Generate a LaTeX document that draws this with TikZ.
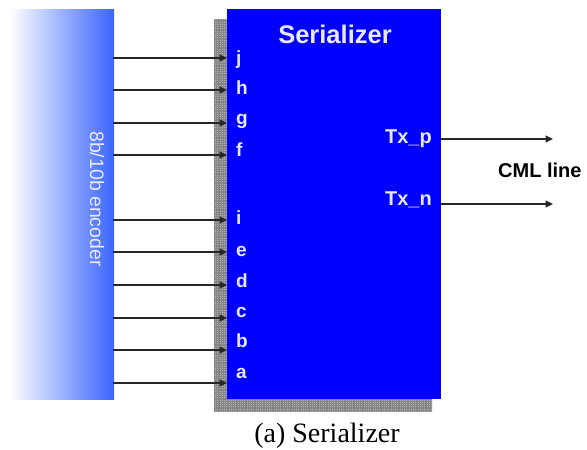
\documentclass[tikz,border=0pt]{standalone}
\usepackage{fontspec}
\setmainfont{Liberation Serif}
\setsansfont{Liberation Sans}
\usetikzlibrary{arrows.meta}
\definecolor{serblue}{RGB}{0,0,255}
\definecolor{encblue}{RGB}{58,100,255}
\definecolor{encmid}{RGB}{175,188,255}
\definecolor{pintext}{RGB}{232,232,255}
\tikzset{
  pin/.style={anchor=base west, inner sep=0pt, text=pintext, font=\sffamily\bfseries\fontsize{19}{19}\selectfont},
  outlbl/.style={anchor=base east, inner sep=0pt, text=pintext, font=\sffamily\bfseries\fontsize{20}{20}\selectfont},
  wire/.style={line width=1.3pt, black!85, -{Triangle[length=7.5pt,width=7pt]}},
}
\begin{document}
\begin{tikzpicture}[x=1pt,y=-1pt]
\useasboundingbox (0,0) rectangle (587,450);
% 8b/10b encoder block with horizontal gradient
\shade[left color=white, middle color=encmid, right color=encblue] (10,9) rectangle (114,399);
\node[inner sep=0pt, minimum width=104pt, minimum height=390pt] (enc) at (62,204) {};
\node[rotate=-90, text=pintext, font=\sffamily\fontsize{19.5}{19.5}\selectfont, inner sep=0pt] (enclbl) at (97,199) {8b/10b encoder};
% hatched shadow behind the serializer
\fill[gray!60] (214,19) rectangle (432,412);
\begin{scope}
  \clip (214,19) rectangle (432,412);
  \draw[gray!95, line width=0.4pt, step=1.8pt] (214,19) grid (432,412);
\end{scope}
% serializer block
\fill[serblue] (227,9) rectangle (441,399);
\node[inner sep=0pt, minimum width=214pt, minimum height=390pt] (ser) at (334,204) {};
\node[anchor=base, inner sep=0pt, text=pintext, font=\sffamily\bfseries\fontsize{25.5}{25.5}\selectfont] (title) at (335,43) {Serializer};
% input pins
\foreach \nm/\lbl/\wy/\ly in {j/j/58/64, h/h/90/94, g/g/123/124, f/f/155/156, i/i/220/224, e/e/252/256, d/d/285/287, c/c/318/317, b/b/350/347, a/a/383/378}{
  \coordinate (src\nm) at (113,\wy);
  \coordinate (dst\nm) at (227,\wy);
  \node[pin] (pin\nm) at (236,\ly) {\lbl};
  \draw[wire] (src\nm) -- (dst\nm);
}
% outputs
\node[outlbl] (txp) at (432,143) {Tx\_p};
\node[outlbl] (txn) at (432,205) {Tx\_n};
\coordinate (txpsrc) at (441,139);
\coordinate (txpdst) at (553,139);
\coordinate (txnsrc) at (441,204);
\coordinate (txndst) at (553,204);
\draw[wire] (txpsrc) -- (txpdst);
\draw[wire] (txnsrc) -- (txndst);
\node[anchor=base west, inner sep=0pt, font=\sffamily\bfseries\fontsize{20}{20}\selectfont] (cml) at (498,177) {CML line};
% caption
\node[anchor=base, inner sep=0pt, font=\fontsize{28}{28}\selectfont] (cap) at (327,442) {(a) Serializer};
\end{tikzpicture}
\end{document}
